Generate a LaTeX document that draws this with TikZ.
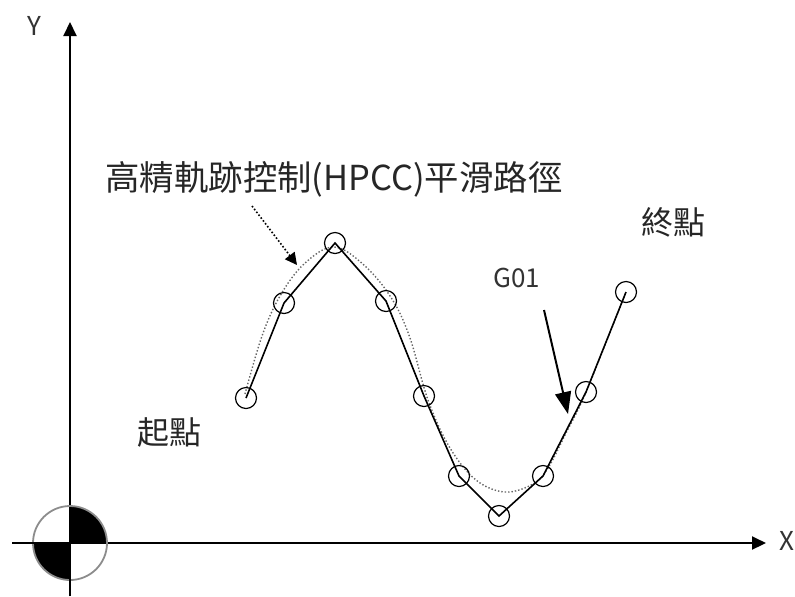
\documentclass[tikz,border=0pt]{standalone}
\usepackage{fontspec}
\setmainfont{Noto Sans CJK TC}
\usetikzlibrary{arrows.meta}
\begin{document}
\begin{tikzpicture}[x=0.5pt,y=-0.5pt,
  axis/.style={line width=1pt,-{Triangle[length=7pt,width=6.5pt]}},
  pt/.style={circle,draw,line width=0.6pt,minimum size=10.5pt,inner sep=0pt},
  lbl/.style={font=\fontsize{16}{18}\selectfont,text=black!85},
  small/.style={font=\fontsize{13}{15}\selectfont,text=black!80}]
\useasboundingbox (0,0) rectangle (795,596);
% axes
\coordinate (o) at (70,543);
\coordinate (ybot) at (70,596);
\coordinate (ytop) at (70,22);
\coordinate (xl) at (12,543);
\coordinate (xr) at (766,543);
\draw[axis] (ybot) -- (ytop);
\draw[axis] (xl) -- (xr);
\node[small] (ylab) at (34,26) {Y};
\node[small] (xlab) at (787,541) {X};
% origin symbol
\fill[black] (o) -- ++(37,0) arc[start angle=0,end angle=-90,radius=37] -- cycle;
\fill[black] (o) -- ++(-37,0) arc[start angle=180,end angle=90,radius=37] -- cycle;
\draw[black!45,line width=0.9pt] (o) circle[radius=37];
\draw[line width=1pt] (ybot) -- (o);
\draw[line width=1pt] (xl) -- (o);
% points
\coordinate (c1) at (246,398);
\coordinate (c2) at (284,303);
\coordinate (c3) at (335,243);
\coordinate (c4) at (386,301);
\coordinate (c5) at (424,396);
\coordinate (c6) at (459,476);
\coordinate (c7) at (499,516);
\coordinate (c8) at (543,476);
\coordinate (c9) at (586,392);
\coordinate (c10) at (626,292);
% smooth dotted path
\draw[densely dotted,black!60,line width=0.7pt] plot[smooth,tension=0.6] coordinates
  {(245,394) (262,336) (280,296) (304,264) (334,247) (365,266) (392,299) (410,338) (428,400) (450,448) (476,480) (505,492) (533,484) (548,468) (566,433) (586,392) (626,292)};
% G01 polyline
\draw[line width=0.8pt] (c1) -- (c2) -- (c3) -- (c4) -- (c5) -- (c6) -- (c7) -- (c8) -- (c9) -- (c10);
\foreach \i in {1,...,10} \node[pt] (n\i) at (c\i) {};
% labels
\node[font=\fontsize{17.2}{19}\selectfont,text=black!85] (hpcc) at (334,179) {高精軌跡控制(HPCC)平滑路徑};
\node[lbl] (end) at (673,222) {終點};
\node[lbl] (start) at (169,432) {起點};
\node[small] (g01) at (517,278) {G01};
% arrows
\coordinate (ha) at (252,206);
\coordinate (hb) at (297,265);
\draw[densely dotted,line width=0.8pt,-{Triangle[length=6pt,width=6pt]}] (ha) -- (hb);
\coordinate (ga) at (544,310);
\coordinate (gb) at (568,414);
\draw[line width=1pt,-{Triangle[length=11pt,width=8pt]}] (ga) -- (gb);
\end{tikzpicture}
\end{document}
